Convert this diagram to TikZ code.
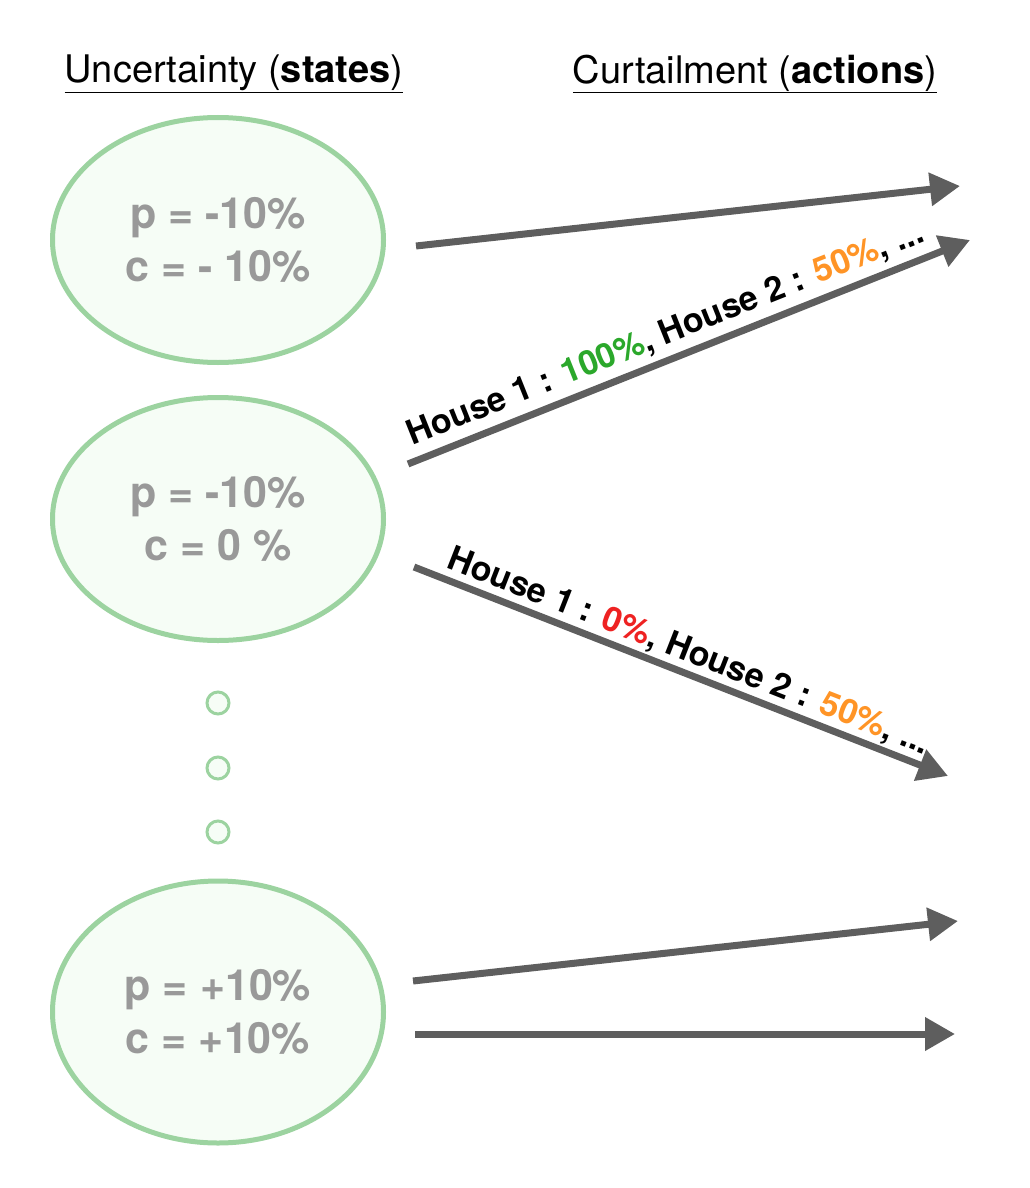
\documentclass[tikz,border=0pt]{standalone}
\usepackage{fontspec}
\setmainfont{TeX Gyre Heros}
\usetikzlibrary{arrows.meta,positioning,shapes.geometric}
\definecolor{stategreen}{HTML}{9CD3A0}
\definecolor{statefill}{HTML}{F6FDF6}
\definecolor{stategray}{HTML}{999999}
\definecolor{arrowgray}{HTML}{5E5E5E}
\definecolor{pctgreen}{HTML}{2BA82B}
\definecolor{pctorange}{HTML}{FF9426}
\definecolor{pctred}{HTML}{EE2222}
\tikzset{every node/.style={align=center}, >={Triangle[length=30pt,width=32pt]}}

\begin{document}
\begin{tikzpicture}[x=1pt, y=-1pt,
    state/.style={ellipse, draw=stategreen, line width=5pt, fill=statefill, minimum width=331pt, text=stategray, font=\fontsize{43}{53}\selectfont\bfseries},
    dot/.style={circle, draw=stategreen, line width=3pt, fill=statefill, minimum size=22pt, inner sep=0pt},
    act/.style={->, draw=arrowgray, line width=7pt},
    lab/.style={sloped, above, inner sep=2pt, font=\fontsize{34}{40}\selectfont\bfseries}]
  \useasboundingbox (0,0) rectangle (1030,1188);

  % headers
  \node [font=\fontsize{38}{44}\selectfont] (hstates) at (234,74) {\underline{Uncertainty (\textbf{states})}};
  \node [font=\fontsize{38}{44}\selectfont] (hactions) at (755,74) {\underline{Curtailment (\textbf{actions})}};

  % states
  \node [state, minimum height=245pt] (s1) at (218,240) {p = -10\%\\c = - 10\%};
  \node [state, minimum height=243pt] (s2) at (218,519) {p = -10\%\\c = 0 \%};
  \node [dot] (d1) [below of=s2, node distance=184pt] {};
  \node [dot] (d2) [below of=d1, node distance=65pt] {};
  \node [dot] (d3) [below of=d2, node distance=64pt] {};
  \node [state, minimum height=262pt] (s3) at (218,1012) {p = +10\%\\c = +10\%};

  % actions
  \coordinate (a1s) at (416,246); \coordinate (a1e) at (960,186);
  \coordinate (a2s) at (408,464); \coordinate (a2e) at (970,240);
  \coordinate (a3s) at (414,567); \coordinate (a3e) at (948,776);
  \coordinate (a4s) at (413,981); \coordinate (a4e) at (958,921);
  \coordinate (a5s) at (415,1034); \coordinate (a5e) at (955,1034);

  \draw [act] (a1s) -- (a1e);
  \draw [act] (a2s) -- node [lab, pos=0.475, inner sep=6pt] {House 1 : \textcolor{pctgreen}{100\%}, House 2 : \textcolor{pctorange}{50\%}, ...} (a2e);
  \draw [act] (a3s) -- node [lab, pos=0.50] {House 1 : \textcolor{pctred}{0\%}, House 2 : \textcolor{pctorange}{50\%}, ...} (a3e);
  \draw [act] (a4s) -- (a4e);
  \draw [act] (a5s) -- (a5e);
\end{tikzpicture}
\end{document}
